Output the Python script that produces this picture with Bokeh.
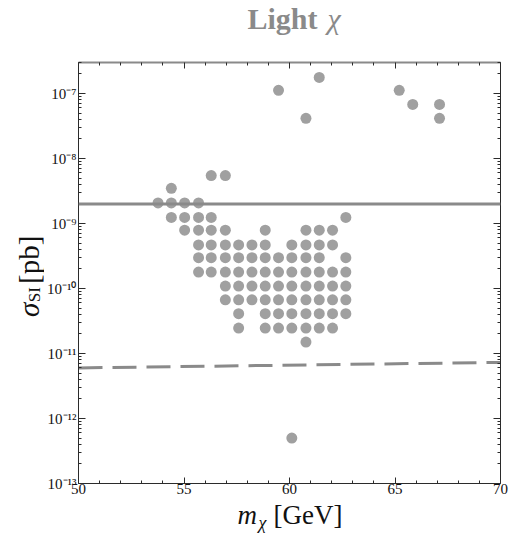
import math
from bokeh.plotting import figure
from bokeh.layouts import column, row
from bokeh.models import (LinearAxis, LogAxis, FixedTicker, CustomJSTickFormatter,
                          Span, Label, Range1d)
from bokeh.embed import file_html
from bokeh.resources import INLINE

# ---- data -------------------------------------------------------------
# scan grid in dark-matter mass [GeV]
mass_grid = [53.77, 54.40, 55.03, 55.69, 56.29, 56.96, 57.59, 58.22,
             58.85, 59.48, 60.11, 60.78, 61.41, 62.04, 62.67]

# cross-section levels [pb] of the scan rows and the grid columns that are filled
row_sigma = [5.47e-9, 3.48e-9, 2.07e-9, 1.24e-9, 7.9e-10, 4.69e-10, 2.98e-10,
             1.79e-10, 1.09e-10, 6.7e-11, 4.1e-11, 2.46e-11, 1.5e-11]
row_members = [
    [4, 5],
    [1],
    [0, 1, 2, 3],
    [1, 2, 3, 4, 14],
    [2, 3, 4, 5, 8, 11, 12, 13],
    [3, 4, 5, 6, 7, 8, 10, 11, 12, 13],
    [3, 4, 5, 6, 7, 8, 9, 10, 11, 12, 14],
    [3, 4, 5, 6, 7, 8, 9, 10, 11, 12, 13, 14],
    [5, 6, 7, 8, 9, 10, 11, 12, 13, 14],
    [5, 6, 7, 8, 9, 10, 11, 12, 13, 14],
    [6, 8, 9, 10, 11, 12, 13, 14],
    [6, 8, 9, 10, 11, 12, 13],
    [11],
]

# isolated model points
extra_mass = [59.48, 60.78, 61.41, 65.20, 65.84, 67.11, 67.11, 60.11]
extra_sigma = [1.12e-7, 4.15e-8, 1.77e-7, 1.12e-7, 6.8e-8, 6.8e-8, 4.15e-8, 5.0e-13]

# current exclusion limit (solid) and projected sensitivity (dashed)
limit_sigma = 2.0e-9
projected_mass = [50.0, 70.0]
projected_sigma = [6.0e-12, 7.3e-12]

x_major = [50, 55, 60, 65, 70]
y_major_exp = [-13, -12, -11, -10, -9, -8, -7]

# ---- assemble points --------------------------------------------------
pts_x, pts_y = [], []
for sig, cols in zip(row_sigma, row_members):
    for c in cols:
        pts_x.append(mass_grid[c])
        pts_y.append(sig)
pts_x += extra_mass
pts_y += extra_sigma

# ---- page geometry ----------------------------------------------------
W, H = 509, 537
TITLE_H = 40          # strip holding the title
YLAB_W = 44           # strip holding the rotated y label
MAIN_H = 460          # main plot height (frame plus tick-label borders)
XLAB_H = H - TITLE_H - MAIN_H

SERIF = "Liberation Serif"
INK = "#111111"
AXIS_COL = "#2b2b2b"
GRAY = "#8a8a8a"

# ---- main plot --------------------------------------------------------
p = figure(width=W - YLAB_W, height=MAIN_H, x_range=Range1d(50, 70),
           y_range=Range1d(1e-13, 3e-7), y_axis_type="log",
           output_backend="svg", toolbar_location=None,
           min_border_left=34, min_border_right=9,
           min_border_top=22, min_border_bottom=17,
           outline_line_color=None)
p.grid.visible = False

x_minor = [v for v in range(50, 71) if v not in x_major]
y_minor = [m * 10.0 ** e for e in range(-13, -6) for m in range(2, 10)]
x_ticker = FixedTicker(ticks=x_major, minor_ticks=x_minor)
y_ticker = FixedTicker(ticks=[10.0 ** e for e in y_major_exp], minor_ticks=y_minor)

pow_fmt = CustomJSTickFormatter(code="""
    const sup = {'-': '\u207b', '0': '\u2070', '1': '\u00b9', '2': '\u00b2', '3': '\u00b3',
                 '4': '\u2074', '5': '\u2075', '6': '\u2076', '7': '\u2077', '8': '\u2078', '9': '\u2079'};
    const e = Math.round(Math.log10(tick));
    return '10' + String(e).split('').map(c => sup[c]).join('');
""")
blank_fmt = CustomJSTickFormatter(code="return '';")


def style(ax, major_in, minor_in, line_col=AXIS_COL, line_w=1):
    ax.axis_line_color = line_col
    ax.axis_line_width = line_w
    ax.major_tick_in = major_in
    ax.major_tick_out = 0
    ax.minor_tick_in = minor_in
    ax.minor_tick_out = 0
    ax.major_tick_line_color = AXIS_COL
    ax.minor_tick_line_color = AXIS_COL
    ax.major_label_text_font = SERIF
    ax.major_label_text_color = INK


xax = p.xaxis[0]
xax.ticker = x_ticker
style(xax, 6, 3)
xax.major_label_text_font_size = "15px"
xax.major_label_standoff = 0

yax = p.yaxis[0]
yax.ticker = y_ticker
yax.formatter = pow_fmt
style(yax, 7, 3)
yax.major_label_text_font_size = "15px"
yax.major_label_standoff = 2

top = LinearAxis(ticker=x_ticker, formatter=blank_fmt)
style(top, 6, 3, line_col=GRAY, line_w=2)
top.major_label_standoff = 0
top.major_label_text_font_size = "1px"
p.add_layout(top, "above")

right = LogAxis(ticker=y_ticker, formatter=blank_fmt)
style(right, 7, 3)
right.major_label_standoff = 0
right.major_label_text_font_size = "1px"
p.add_layout(right, "right")

# limit lines
p.add_layout(Span(location=limit_sigma, dimension="width",
                  line_color=GRAY, line_width=3))
p.line(projected_mass, projected_sigma, line_color=GRAY, line_width=3,
       line_dash="24 10")

# model points
p.scatter(pts_x, pts_y, size=11, fill_color="#a0a0a0", line_color=None)


# ---- text strips: pixel coordinates, origin top-left -------------------
def strip(w, h):
    f = figure(width=w, height=h, x_range=Range1d(0, w), y_range=Range1d(h, 0),
               output_backend="svg", toolbar_location=None,
               x_axis_location=None, y_axis_location=None,
               min_border=0, outline_line_color=None)
    f.grid.visible = False
    return f


def piece(fig, text, x, y, size, style="normal", angle=0.0, color=INK, align="left"):
    fig.add_layout(Label(x=x, y=y, text=text, text_font=SERIF,
                         text_font_size=size, text_font_style=style,
                         text_color=color, angle=angle, text_align=align,
                         text_baseline="alphabetic"))


# the anchors sit about a third of the font size above the drawn baseline
title_fig = strip(W, TITLE_H)
piece(title_fig, "Light", 317, 18, "30px", "bold", color=GRAY, align="right")
piece(title_fig, "\u03c7", 327, 18, "30px", "italic", color=GRAY)

ylab_fig = strip(YLAB_W, MAIN_H)
rot = math.pi / 2
piece(ylab_fig, "\u03c3", 28, 278, "29px", "italic", angle=rot)
piece(ylab_fig, "SI", 34, 262, "17px", angle=rot)
piece(ylab_fig, "[pb]", 28, 242, "29px", angle=rot)

xlab_fig = strip(W, XLAB_H)
piece(xlab_fig, "m", 237, 14, "27px", "italic")
piece(xlab_fig, "\u03c7", 258, 22, "18px", "italic")
piece(xlab_fig, "[GeV]", 273, 14, "27px")

page = column(title_fig, row(ylab_fig, p), xlab_fig)

open("out.html", "w").write(file_html(page, INLINE))
